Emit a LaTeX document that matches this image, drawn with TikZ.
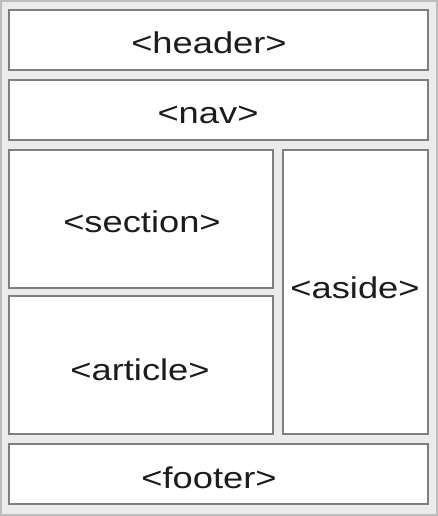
\documentclass[tikz,border=0pt]{standalone}
\usepackage{fontspec}
\setmainfont{Liberation Sans}
\definecolor{bgc}{HTML}{EBEBEB}
\definecolor{outc}{HTML}{BDBDBD}
\definecolor{boxc}{HTML}{7F7F7F}
\definecolor{txtc}{HTML}{1C1C1C}
\begin{document}
\begin{tikzpicture}[x=1pt,y=-1pt,
  boxst/.style={draw=boxc,line width=2pt,fill=white},
  lbl/.style={anchor=base,inner sep=0pt,text=txtc,font=\fontsize{30}{35}\selectfont}]
\useasboundingbox (0,0) rectangle (438,516);
\draw[fill=bgc,draw=outc,line width=2pt] (1,1) rectangle (437,515);
\draw[boxst] (9,10) rectangle (428,70);
\draw[boxst] (9,80) rectangle (428,140);
\draw[boxst] (9,150) rectangle (273,288);
\draw[boxst] (9,296) rectangle (273,434);
\draw[boxst] (283,150) rectangle (428,434);
\draw[boxst] (9,444) rectangle (428,504);
\node[lbl] (header) at (209,54) {\scalebox{1.21}[1]{<header>}};
\node[lbl] (nav) at (208,123) {\scalebox{1.21}[1]{<nav>}};
\node[lbl] (section) at (142,232) {\scalebox{1.21}[1]{<section>}};
\node[lbl] (article) at (140,380) {\scalebox{1.21}[1]{<article>}};
\node[lbl] (aside) at (355,298) {\scalebox{1.21}[1]{<aside>}};
\node[lbl] (footer) at (209,488) {\scalebox{1.21}[1]{<footer>}};
\end{tikzpicture}
\end{document}
